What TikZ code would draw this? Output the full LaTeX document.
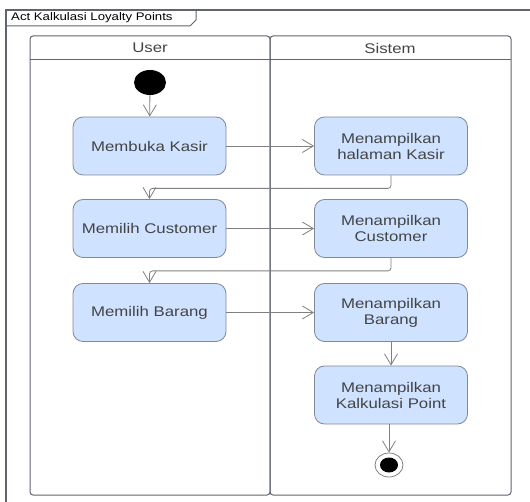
\documentclass[tikz,border=0pt]{standalone}
\usepackage{fontspec}
\usepackage{tikz}
\usetikzlibrary{positioning}
\usetikzlibrary{arrows.meta,shapes.geometric}

\newfontfamily\umlfont{Liberation Sans}[FakeStretch=1.2]
\definecolor{actfill}{RGB}{207,226,255}
\definecolor{actdraw}{RGB}{130,136,150}
\definecolor{flowgray}{RGB}{128,128,128}
\definecolor{txtgray}{RGB}{68,68,68}
\definecolor{framegray}{RGB}{95,100,110}

\tikzset{
	activity/.style={draw=actdraw, fill=actfill, rounded corners=10pt, minimum width=153pt, minimum height=58pt, align=center, text=txtgray, font=\umlfont\fontsize{14}{16}\selectfont, line width=0.8pt},
	flow/.style={draw=flowgray, line width=0.8pt, -{Straight Barb[length=11pt,width=13pt,line width=0.8pt]}},
	lane/.style={draw=framegray, line width=1pt, rounded corners=3pt},
	lanetitle/.style={text=txtgray, font=\umlfont\fontsize{14}{16}\selectfont},
}

\begin{document}
\begin{tikzpicture}[x=1pt, y=-1pt]

	\path[use as bounding box] (0,0) rectangle (530,502);

	%Frame
	\begin{scope}
		\clip (0,0) rectangle (530,502);
		\draw[framegray, line width=1.4pt] (6,10) rectangle (545,520);
	\end{scope}
	\draw[framegray, line width=1pt] (6,26) -- (190,26) -- (196,20) -- (196,10);
	\node[anchor=west, text=black, font=\umlfont\fontsize{11}{13}\selectfont, inner sep=0pt] (title) at (11,18) {Act Kalkulasi Loyalty Points};

	%Lanes
	\draw[lane] (30,36) rectangle (270,495);
	\draw[lane] (270,36) rectangle (511,495);
	\draw[framegray, line width=1pt] (30,60) -- (511,60);
	\node[lanetitle] (user) at (150,48) {User};
	\node[lanetitle] (sistem) at (390,48) {Sistem};

	%Activities
	\node[ellipse, fill=black, minimum width=32pt, minimum height=25pt, inner sep=0pt] (start) at (150,82.5) {};

	\node[activity] (kasir) at (149.5,146) {Membuka Kasir};
	\node[activity] (customer) at (149.5,228.5) {Memilih Customer};
	\node[activity] (barang) at (149.5,312.5) {Memilih Barang};

	\node[activity] (showkasir) at (391,146) {Menampilkan\\halaman Kasir};
	\node[activity] (showcust) at (391,228.5) {Menampilkan\\Customer};
	\node[activity] (showbarang) at (391,312.5) {Menampilkan\\Barang};
	\node[activity] (showpoint) at (391,395) {Menampilkan\\Kalkulasi Point};

	\node[ellipse, draw=flowgray, fill=white, line width=0.8pt, minimum width=28pt, minimum height=24pt, inner sep=0pt] (final) at (389,465) {};
	\node[ellipse, fill=black, minimum width=18pt, minimum height=15pt, inner sep=0pt] (finaldot) at (389,465) {};

	%Flows
	\draw[flow] (start) -- (kasir);
	\draw[flow] (kasir) -- (showkasir);
	\draw[flow, rounded corners=3pt] (showkasir.south) -- ++(0,13) -| (customer.north);
	\draw[flow] (customer) -- (showcust);
	\draw[flow, rounded corners=3pt] (showcust.south) -- ++(0,13) -| (barang.north);
	\draw[flow] (barang) -- (showbarang);
	\draw[flow] (showbarang) -- (showpoint);
	\draw[flow] (showpoint.south -| final) -- (final);

\end{tikzpicture}
\end{document}
